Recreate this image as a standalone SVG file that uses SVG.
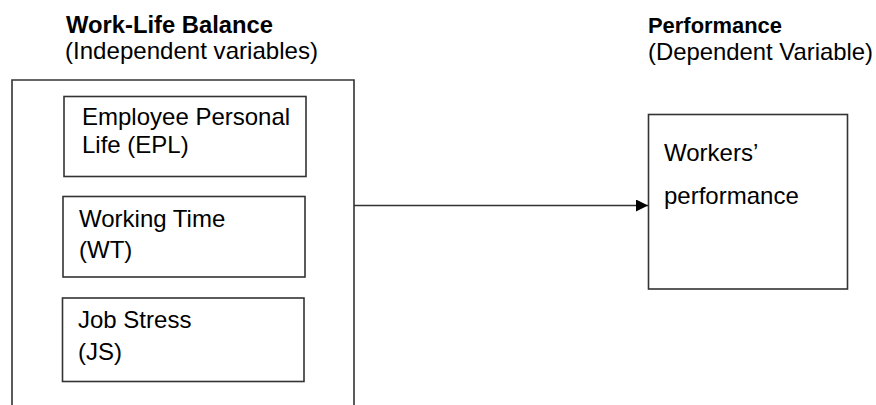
<svg xmlns="http://www.w3.org/2000/svg" width="876" height="405" viewBox="0 0 876 405">
<defs>
<style>
.box{fill:#fff;stroke:#333;stroke-width:1.6}
.t{font-family:"Liberation Sans",Arial,sans-serif;font-size:24px;fill:#000}
.h{font-family:"Liberation Sans",Arial,sans-serif;font-weight:bold;fill:#000}
.c{stroke:#333;stroke-width:1.6;fill:none}
</style>
<marker id="arr" markerWidth="12" markerHeight="12" refX="12" refY="6" orient="auto" markerUnits="userSpaceOnUse">
<path d="M0,0 L12,6 L0,12 Z" fill="#000"/>
</marker>
</defs>
<rect width="876" height="405" fill="#fff"/>
<g id="headers">
<text class="h" x="66" y="33" font-size="23.5" textLength="207" lengthAdjust="spacingAndGlyphs">Work-Life Balance</text>
<text class="t" x="65" y="59" textLength="253" lengthAdjust="spacingAndGlyphs">(Independent variables)</text>
<text class="h" x="648" y="33" font-size="22" textLength="134" lengthAdjust="spacingAndGlyphs">Performance</text>
<text class="t" x="648" y="60" textLength="225" lengthAdjust="spacingAndGlyphs">(Dependent Variable)</text>
</g>
<g id="wlb">
<path class="c" d="M12,405 V80 H354 V405"/>
</g>
<g id="epl">
<rect class="box" x="64" y="96.5" width="242" height="80"/>
<text class="t" x="82" y="125">Employee Personal</text>
<text class="t" x="82" y="153">Life (EPL)</text>
</g>
<g id="wt">
<rect class="box" x="63" y="196.5" width="242" height="80.5"/>
<text class="t" x="79" y="226.5">Working Time</text>
<text class="t" x="79" y="258">(WT)</text>
</g>
<g id="js">
<rect class="box" x="62.5" y="298" width="241.5" height="83.5"/>
<text class="t" x="78" y="327.5">Job Stress</text>
<text class="t" x="78" y="360">(JS)</text>
</g>
<g id="perf">
<rect class="box" x="648.5" y="114.5" width="199" height="174.5"/>
<text class="t" x="664" y="161">Workers’</text>
<text class="t" x="664" y="204">performance</text>
</g>
<g id="connectors">
<line class="c" x1="354" y1="205.5" x2="648" y2="205.5" marker-end="url(#arr)"/>
</g>
</svg>
